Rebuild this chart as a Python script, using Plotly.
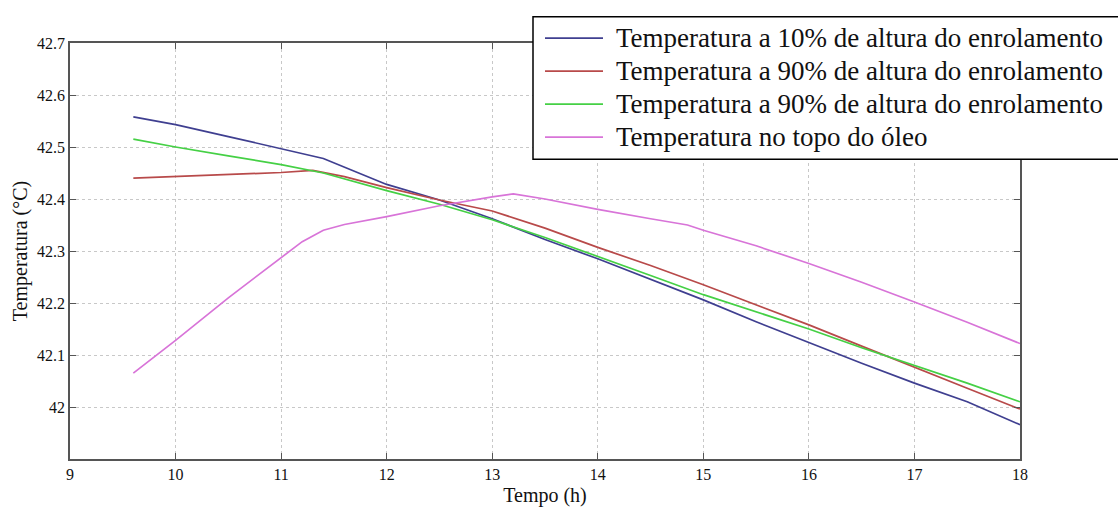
import plotly.graph_objects as go

# Time (h) sample points
t_blue = [9.6, 10.0, 10.5, 11.0, 11.4, 12.0, 12.5, 13.0, 13.5, 14.0, 14.5, 15.0, 15.5, 16.0, 16.5, 17.0, 17.5, 18.0]
v_blue = [42.558, 42.543, 42.520, 42.497, 42.478, 42.428, 42.398, 42.362, 42.322, 42.285, 42.246, 42.206, 42.164, 42.124, 42.084, 42.046, 42.010, 41.966]

t_red = [9.6, 10.0, 10.5, 11.0, 11.3, 11.6, 12.0, 12.5, 13.0, 13.5, 14.0, 14.5, 15.0, 15.5, 16.0, 16.5, 17.0, 17.5, 18.0]
v_red = [42.440, 42.443, 42.447, 42.451, 42.455, 42.443, 42.422, 42.398, 42.377, 42.344, 42.307, 42.272, 42.235, 42.197, 42.158, 42.117, 42.076, 42.036, 41.996]

t_green = [9.6, 10.0, 10.5, 11.0, 11.4, 12.0, 12.5, 13.0, 13.5, 14.0, 14.5, 15.0, 15.5, 16.0, 16.5, 17.0, 17.5, 18.0]
v_green = [42.515, 42.500, 42.483, 42.466, 42.450, 42.416, 42.390, 42.360, 42.326, 42.290, 42.253, 42.216, 42.183, 42.150, 42.114, 42.080, 42.046, 42.010]

t_mag = [9.6, 10.0, 10.5, 11.0, 11.2, 11.4, 11.6, 12.0, 12.5, 13.0, 13.2, 13.5, 14.0, 14.5, 14.85, 15.0, 15.5, 16.0, 16.5, 17.0, 17.5, 18.0]
v_mag = [42.065, 42.128, 42.210, 42.288, 42.318, 42.340, 42.351, 42.366, 42.387, 42.404, 42.410, 42.400, 42.380, 42.362, 42.350, 42.340, 42.310, 42.276, 42.240, 42.202, 42.163, 42.122]

names = [
    "Temperatura a 10% de altura do enrolamento",
    "Temperatura a 90% de altura do enrolamento",
    "Temperatura a 90% de altura do enrolamento",
    "Temperatura no topo do óleo",
]
colors = ["#3f3f90", "#b84a4a", "#45d045", "#d874d8"]

x_ticks = [9, 10, 11, 12, 13, 14, 15, 16, 17, 18]
y_ticks = [42.0, 42.1, 42.2, 42.3, 42.4, 42.5, 42.6, 42.7]
y_ticktext = ["42", "42.1", "42.2", "42.3", "42.4", "42.5", "42.6", "42.7"]

fig = go.Figure()
for (tx, ty), name, col in zip([(t_blue, v_blue), (t_red, v_red), (t_green, v_green), (t_mag, v_mag)], names, colors):
    fig.add_trace(go.Scatter(x=tx, y=ty, mode="lines", name=name,
                             line=dict(color=col, width=1.7), showlegend=False))

serif = "Liberation Serif"
axis_common = dict(
    showline=True, linecolor="#555555", linewidth=1.5, mirror="ticks",
    ticks="inside", ticklen=6, tickcolor="#555555", tickwidth=1.2,
    showgrid=True, gridcolor="#c8c8c8", gridwidth=1, griddash="dot",
    zeroline=False, tickfont=dict(family=serif, size=16, color="#111111"),
)

fig.update_xaxes(range=[9, 18], tickvals=x_ticks, ticktext=[str(v) for v in x_ticks],
                 title=dict(text="Tempo (h)", font=dict(family=serif, size=20, color="#111111"), standoff=6),
                 **axis_common)
fig.update_yaxes(range=[41.9, 42.7], tickvals=y_ticks, ticktext=y_ticktext,
                 title=dict(text="Temperatura (°C)", font=dict(family=serif, size=20, color="#111111"), standoff=4),
                 **axis_common)

# Legend box drawn in paper coordinates (plot area: 70..1020 px wide, 43..472 px tall)
W, H, L, T = 950.0, 429.0, 70.0, 43.0
def px(xp):
    return (xp - L) / W
def py(yp):
    return (T + H - yp) / H

box_left, box_top, box_right, box_bottom = 533, 16, 1130, 163
row_y = [38, 72, 106, 140]
fig.add_shape(type="rect", xref="paper", yref="paper",
              x0=px(box_left), x1=px(box_right), y0=py(box_bottom), y1=py(box_top),
              fillcolor="white", line=dict(color="black", width=1.5), layer="above")
for yy, name, col in zip(row_y, names, colors):
    fig.add_shape(type="line", xref="paper", yref="paper",
                  x0=px(545), x1=px(603), y0=py(yy), y1=py(yy),
                  line=dict(color=col, width=1.7), layer="above")
    fig.add_annotation(text=name, xref="paper", yref="paper", x=px(614), y=py(yy),
                       xanchor="left", yanchor="middle", showarrow=False,
                       font=dict(family=serif, size=27, color="#111111"))

fig.update_layout(
    width=1118, height=515,
    margin=dict(l=70, r=98, t=43, b=43),
    paper_bgcolor="white", plot_bgcolor="white",
    showlegend=False,
)

fig.write_html("out.html")
